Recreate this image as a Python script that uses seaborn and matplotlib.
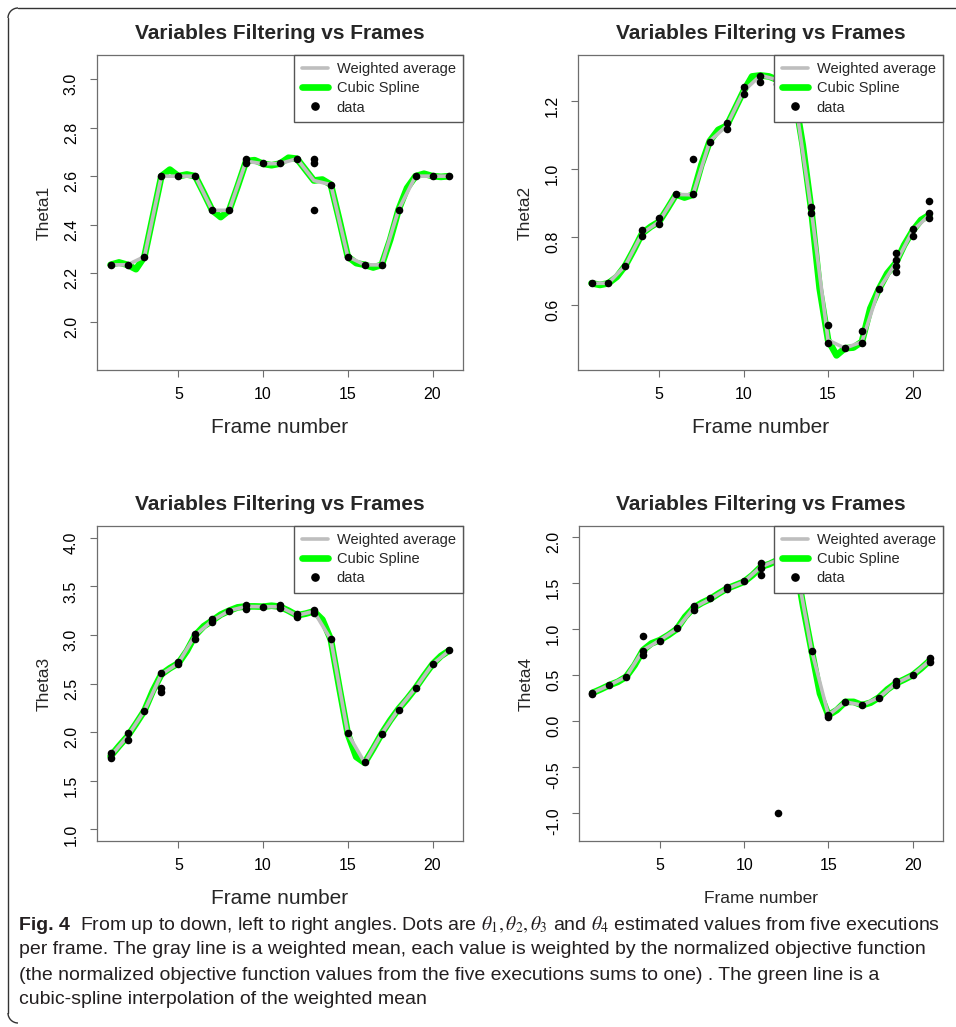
import numpy as np
import matplotlib
matplotlib.use("Agg")
import matplotlib.pyplot as plt
import seaborn as sns
from matplotlib.lines import Line2D
from matplotlib.patches import Arc

sns.set_theme(style="white")
plt.rcParams["font.family"] = ["Liberation Sans", "DejaVu Sans"]
plt.rcParams["axes.unicode_minus"] = False
plt.rcParams["mathtext.fontset"] = "stix"

# frames and the half-frame grid the spline was read on
frames = list(range(1, 22))
half_frames = list(np.arange(1, 21.01, 0.5))

# ---- Theta1
avg1 = [2.234, 2.234, 2.268, 2.600, 2.600, 2.600, 2.459, 2.459, 2.662, 2.651, 2.652,
        2.672, 2.582, 2.565, 2.268, 2.234, 2.234, 2.462, 2.600, 2.600, 2.600]
spline1 = [2.234, 2.244, 2.234, 2.216, 2.268, 2.434, 2.600, 2.627, 2.600, 2.607, 2.600,
           2.531, 2.459, 2.431, 2.459, 2.558, 2.662, 2.666, 2.651, 2.645, 2.652,
           2.676, 2.672, 2.627, 2.582, 2.586, 2.565, 2.420, 2.268, 2.241, 2.234,
           2.223, 2.234, 2.337, 2.462, 2.551, 2.600, 2.610, 2.600, 2.597, 2.600]
pts1_x = [1, 2, 3, 4, 5, 6, 7, 8, 9, 9, 10, 11, 12, 13, 13, 13, 14, 15, 16, 17, 18, 19, 20, 21]
pts1_y = [2.234, 2.235, 2.268, 2.600, 2.600, 2.600, 2.462, 2.462, 2.669, 2.655, 2.655, 2.655,
          2.672, 2.672, 2.655, 2.462, 2.565, 2.268, 2.234, 2.234, 2.462, 2.600, 2.600, 2.600]

# ---- Theta2
avg2 = [0.664, 0.664, 0.716, 0.811, 0.845, 0.925, 0.924, 1.082, 1.127, 1.229, 1.275,
        1.262, 1.220, 0.882, 0.497, 0.473, 0.492, 0.646, 0.723, 0.818, 0.865]
spline2 = [0.664, 0.659, 0.664, 0.683, 0.716, 0.762, 0.811, 0.830, 0.845, 0.884, 0.925,
           0.916, 0.924, 1.012, 1.082, 1.115, 1.127, 1.178, 1.229, 1.272, 1.275,
           1.272, 1.262, 1.255, 1.220, 1.070, 0.882, 0.649, 0.497, 0.452, 0.473,
           0.475, 0.492, 0.590, 0.646, 0.693, 0.723, 0.776, 0.818, 0.850, 0.865]
pts2_x = [1, 2, 3, 4, 4, 5, 5, 6, 7, 7, 8, 9, 9, 10, 10, 11, 11, 12, 12, 13, 14, 14, 15, 15,
          16, 17, 17, 18, 19, 19, 19, 19, 20, 20, 21, 21, 21]
pts2_y = [0.664, 0.664, 0.716, 0.821, 0.803, 0.855, 0.838, 0.926, 0.926, 1.029, 1.080, 1.134,
          1.117, 1.240, 1.221, 1.274, 1.255, 1.262, 1.250, 1.220, 0.889, 0.871, 0.541, 0.489,
          0.473, 0.524, 0.489, 0.647, 0.752, 0.732, 0.715, 0.698, 0.823, 0.803, 0.907, 0.871, 0.855]

# ---- Theta3
avg3 = [1.752, 1.956, 2.221, 2.595, 2.708, 2.997, 3.147, 3.249, 3.293, 3.290, 3.290,
        3.201, 3.242, 2.953, 1.984, 1.684, 1.984, 2.239, 2.453, 2.698, 2.841]
spline3 = [1.752, 1.857, 1.956, 2.086, 2.221, 2.426, 2.595, 2.657, 2.708, 2.834, 2.997,
           3.089, 3.147, 3.208, 3.249, 3.283, 3.293, 3.293, 3.290, 3.300, 3.290,
           3.249, 3.201, 3.218, 3.242, 3.157, 2.953, 2.459, 1.984, 1.745, 1.684,
           1.830, 1.984, 2.119, 2.239, 2.341, 2.453, 2.579, 2.698, 2.783, 2.841]
pts3_x = [1, 1, 2, 2, 3, 4, 4, 4, 5, 5, 6, 6, 7, 7, 8, 9, 9, 10, 11, 11, 12, 12, 13, 13,
          14, 15, 16, 17, 18, 19, 20, 21]
pts3_y = [1.790, 1.735, 1.994, 1.922, 2.221, 2.606, 2.449, 2.415, 2.724, 2.698, 3.010, 2.959,
          3.167, 3.130, 3.249, 3.303, 3.269, 3.290, 3.303, 3.276, 3.214, 3.181, 3.259, 3.224,
          2.956, 1.990, 1.688, 1.983, 2.228, 2.453, 2.704, 2.844]

# ---- Theta4
avg4 = [0.307, 0.391, 0.482, 0.772, 0.881, 1.001, 1.233, 1.331, 1.444, 1.517, 1.680,
        1.753, 1.780, 0.772, 0.064, 0.209, 0.173, 0.257, 0.410, 0.500, 0.656]
spline4 = [0.307, 0.347, 0.391, 0.427, 0.482, 0.609, 0.772, 0.845, 0.881, 0.936, 1.001,
           1.135, 1.233, 1.288, 1.331, 1.390, 1.444, 1.480, 1.517, 1.590, 1.680,
           1.709, 1.753, 1.790, 1.780, 1.250, 0.772, 0.300, 0.064, 0.120, 0.209,
           0.209, 0.173, 0.200, 0.257, 0.344, 0.410, 0.453, 0.500, 0.573, 0.656]
pts4_x = [1, 1, 2, 3, 4, 4, 4, 5, 6, 7, 7, 8, 9, 9, 10, 11, 11, 11, 12, 12, 13, 14, 15, 15,
          16, 17, 18, 19, 19, 20, 21, 21]
pts4_y = [0.307, 0.290, 0.391, 0.482, 0.925, 0.765, 0.718, 0.874, 1.009, 1.252, 1.208, 1.335,
          1.462, 1.434, 1.524, 1.717, 1.662, 1.589, 1.760, -1.0, 1.780, 0.765, 0.064, 0.046,
          0.209, 0.173, 0.253, 0.435, 0.391, 0.500, 0.682, 0.645]

GRAY = "#BEBEBE"
GREEN = "#00FF00"
FRAME = "#6E6E6E"
W, H = 956, 1027


def draw_panel(rect, avg, spline, px, py, ylabel, ylim, yticks, xlab_size=15):
    ax = fig.add_axes(rect)
    sns.lineplot(x=half_frames, y=spline, ax=ax, color=GREEN, lw=4.8, estimator=None,
                 sort=False, legend=False, solid_capstyle="round", solid_joinstyle="round", zorder=2)
    sns.lineplot(x=frames, y=avg, ax=ax, color=GRAY, lw=2.6, estimator=None,
                 sort=False, legend=False, solid_capstyle="round", solid_joinstyle="round", zorder=3)
    sns.scatterplot(x=px, y=py, ax=ax, color="black", s=30, linewidth=0, legend=False, zorder=4)

    ax.set_xlim(0.2, 21.8)
    ax.set_ylim(*ylim)
    ax.set_xticks([5, 10, 15, 20])
    ax.set_yticks(yticks)
    ax.set_yticklabels([f"{t:.1f}" for t in yticks])
    ax.tick_params(axis="both", length=5, width=0.8, color=FRAME, labelsize=11.5,
                   labelcolor="black", left=True, bottom=True)
    ax.tick_params(axis="x", pad=7)
    ax.tick_params(axis="y", pad=8, labelrotation=90)
    for s in ax.spines.values():
        s.set_color(FRAME)
        s.set_linewidth(0.9)

    ax.text(0.5, 1.068, "Variables Filtering vs Frames", transform=ax.transAxes,
            ha="center", va="center", fontsize=15, fontweight="bold")
    ax.set_xlabel("Frame number", fontsize=xlab_size)
    ax.xaxis.set_label_coords(0.5, -0.184)
    ax.xaxis.label.set_va("center")
    ax.set_ylabel(ylabel, fontsize=12.5)
    ax.yaxis.set_label_coords(-0.145, 0.5)
    ax.yaxis.label.set_va("center")

    handles = [Line2D([], [], color=GRAY, lw=2.6),
               Line2D([], [], color=GREEN, lw=4.8, solid_capstyle="round"),
               Line2D([], [], color="black", marker="o", ls="none", markersize=5.2)]
    leg = ax.legend(handles, ["Weighted average", "Cubic Spline", "data"], loc="upper right",
                    borderaxespad=0, fancybox=False, framealpha=1, edgecolor="#555555",
                    fontsize=10.5, handlelength=1.8, handletextpad=0.6, borderpad=0.5,
                    labelspacing=0.35)
    leg.get_frame().set_linewidth(1.0)
    leg.set_zorder(10)
    return ax


fig = plt.figure(figsize=(W / 100, H / 100), dpi=100)
fig.patch.set_facecolor("white")

draw_panel([97 / W, 1 - 370 / H, 366 / W, 315 / H], avg1, spline1, pts1_x, pts1_y,
           "Theta1", (1.8, 3.1), [2.0, 2.2, 2.4, 2.6, 2.8, 3.0])
draw_panel([578 / W, 1 - 370 / H, 365 / W, 315 / H], avg2, spline2, pts2_x, pts2_y,
           "Theta2", (0.409, 1.335), [0.6, 0.8, 1.0, 1.2])
draw_panel([97 / W, 1 - 841 / H, 366 / W, 315 / H], avg3, spline3, pts3_x, pts3_y,
           "Theta3", (0.88, 4.12), [1.0, 1.5, 2.0, 2.5, 3.0, 3.5, 4.0])
draw_panel([579 / W, 1 - 841 / H, 364 / W, 315 / H], avg4, spline4, pts4_x, pts4_y,
           "Theta4", (-1.305, 2.123), [-1.0, -0.5, 0.0, 0.5, 1.0, 1.5, 2.0], xlab_size=12.5)

# rounded page border (top and left edges)
bc = "#333333"
r = 10
fig.add_artist(Line2D([(8 + r) / W, 1], [1 - 8 / H, 1 - 8 / H], color=bc, lw=1))
fig.add_artist(Line2D([8 / W, 8 / W], [1 - (8 + r) / H, (4 + r) / H], color=bc, lw=1))
fig.add_artist(Arc(((8 + r) / W, 1 - (8 + r) / H), 2 * r / W, 2 * r / H, theta1=90, theta2=180,
                   color=bc, lw=1, transform=fig.transFigure))
fig.add_artist(Arc(((8 + r) / W, (4 + r) / H), 2 * r / W, 2 * r / H, theta1=180, theta2=270,
                   color=bc, lw=1, transform=fig.transFigure))

# caption
cap_color = "#231F20"
fig.text(19 / W, 1 - 925 / H, "Fig. 4", fontsize=14, fontweight="bold", va="center",
         color=cap_color)
cap_lines = [
    "From up to down, left to right angles. Dots are $\\theta_1,\\theta_2,\\theta_3$ and $\\theta_4$ "
    "estimated values from five executions",
    "per frame. The gray line is a weighted mean, each value is weighted by the normalized objective function",
    "(the normalized objective function values from the five executions sums to one) . The green line is a",
    "cubic-spline interpolation of the weighted mean",
]
cap_x = [80, 19, 19, 19]
cap_y = [925, 950, 975, 1000]
for txt, cx, cy in zip(cap_lines, cap_x, cap_y):
    fig.text(cx / W, 1 - cy / H, txt, fontsize=14, va="center", color=cap_color)

fig.savefig("out.png", dpi=100)
